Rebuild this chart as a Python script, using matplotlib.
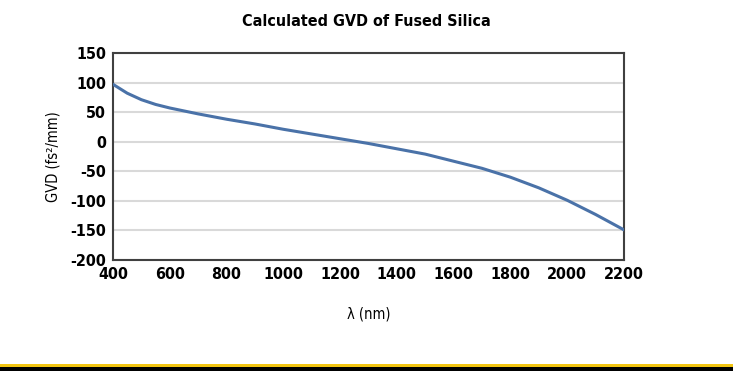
import numpy as np
import matplotlib
matplotlib.use('Agg')
from matplotlib import pyplot as plt
from matplotlib.patches import Rectangle

# wavelength (nm) and GVD (fs^2/mm)
wavelength = [400, 450, 500, 550, 600, 650, 700, 800, 900, 1000, 1100, 1200,
              1300, 1400, 1500, 1600, 1700, 1800, 1900, 2000, 2100, 2200]
gvd = [97, 82, 71, 63, 57, 52, 47, 38, 30, 21, 13, 5,
       -3, -12, -21, -33, -45, -60, -78, -99, -123, -149]

xticks = [400, 600, 800, 1000, 1200, 1400, 1600, 1800, 2000, 2200]
yticks = [-200, -150, -100, -50, 0, 50, 100, 150]

plt.rcParams['font.family'] = ['DejaVu Sans']
plt.rcParams['font.stretch'] = 'condensed'
plt.rcParams['axes.unicode_minus'] = False

fig = plt.figure(figsize=(7.33, 3.71), dpi=100)
ax = fig.add_axes([0.1542, 0.2992, 0.697, 0.558])

ax.plot(wavelength, gvd, color='#4a72a8', lw=2.2, solid_capstyle='round', zorder=3)

ax.set_xlim(400, 2200)
ax.set_ylim(-200, 150)
ax.set_xticks(xticks)
ax.set_yticks(yticks)
ax.tick_params(length=0, labelsize=11.5, pad=5)
for lab in ax.get_xticklabels() + ax.get_yticklabels():
    lab.set_fontweight('bold')
    lab.set_fontstretch('condensed')
ax.yaxis.grid(True, color='#d9d9d9', lw=1.5)
ax.set_axisbelow(True)
for s in ax.spines.values():
    s.set_color('#404040')
    s.set_linewidth(1.5)

ax.set_xlabel('λ (nm)', fontsize=10.5, labelpad=18, fontstretch='condensed')
ax.set_ylabel('GVD (fs²/mm)', fontsize=10.5, labelpad=7, fontstretch='condensed')
fig.text(0.5, 0.942, 'Calculated GVD of Fused Silica', ha='center', va='center',
         fontsize=11.5, fontweight='bold', fontstretch='condensed')

# yellow rule and black band at the bottom
fig.add_artist(Rectangle((0, 0.0108), 1, 0.0081, transform=fig.transFigure,
                         color='#f2c511', lw=0))
fig.add_artist(Rectangle((0, 0), 1, 0.0108, transform=fig.transFigure,
                         color='black', lw=0))

fig.savefig('out.png', dpi=100)
